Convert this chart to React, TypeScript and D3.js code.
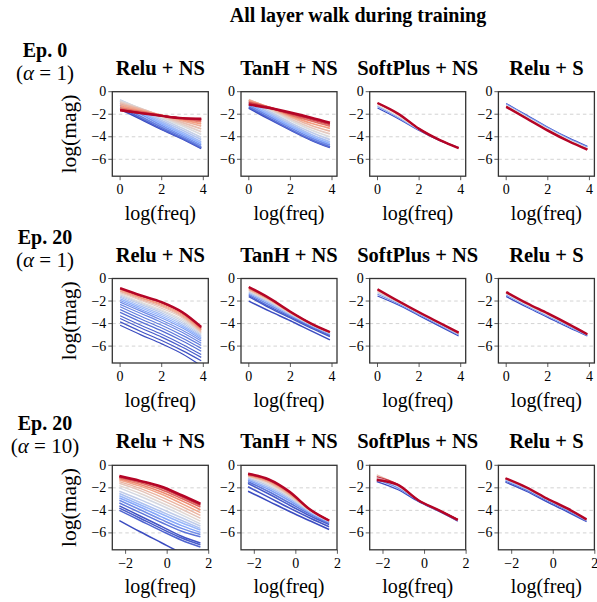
import React, { useEffect, useRef } from "react";
import * as d3 from "d3";

// ---- data ----
const title = "All layer walk during training";
const colTitles = ["Relu + NS", "TanH + NS", "SoftPlus + NS", "Relu + S"];
const rowEpochs = ["Ep. 0", "Ep. 20", "Ep. 20"];
const rowAlphas = ["1", "1", "10"];
const yTicks = [0, -2, -4, -6];
const xTicksA = [0, 2, 4];
const xTicksB = [-2, 0, 2];
const freqA = [0, 1, 2, 3, 3.9]; // log(freq) samples, alpha = 1
const freqB = [-2.3, -1.3, -0.3, 0.7, 1.6]; // log(freq) samples, alpha = 10
const nLayers = 50;

// Ep. 0, alpha = 1
const ep0ReluNSLayers = [0, 3, 6, 9, 12, 15, 18, 21, 24, 27, 30, 33, 36, 39, 42, 45, 48, 49];
const ep0ReluNS = [
  [-1.55, -2.45, -3.35, -4.2, -5.05],
  [-1.4, -2.35, -3.3, -4.15, -5.0],
  [-1.2, -2.2, -3.15, -4.05, -4.9],
  [-1.0, -2.0, -3.0, -3.9, -4.75],
  [-0.85, -1.85, -2.85, -3.75, -4.6],
  [-0.78, -1.72, -2.7, -3.6, -4.45],
  [-0.75, -1.62, -2.55, -3.42, -4.25],
  [-0.75, -1.55, -2.4, -3.25, -4.05],
  [-0.8, -1.5, -2.28, -3.05, -3.8],
  [-0.9, -1.5, -2.2, -2.9, -3.55],
  [-1.0, -1.55, -2.15, -2.75, -3.3],
  [-1.15, -1.6, -2.1, -2.6, -3.05],
  [-1.3, -1.7, -2.1, -2.5, -2.85],
  [-1.45, -1.75, -2.1, -2.42, -2.68],
  [-1.55, -1.82, -2.12, -2.38, -2.55],
  [-1.6, -1.87, -2.13, -2.36, -2.47],
  [-1.63, -1.9, -2.15, -2.35, -2.42],
  [-1.65, -1.9, -2.15, -2.35, -2.4],
];
const ep0TanhNSLayers = [0, 4, 8, 12, 16, 20, 24, 28, 32, 36, 40, 44, 47, 49];
const ep0TanhNS = [
  [-1.45, -2.45, -3.4, -4.3, -4.95],
  [-1.35, -2.35, -3.35, -4.25, -4.9],
  [-1.2, -2.2, -3.2, -4.1, -4.75],
  [-1.05, -2.05, -3.05, -3.95, -4.6],
  [-0.9, -1.9, -2.9, -3.8, -4.45],
  [-0.8, -1.75, -2.75, -3.6, -4.25],
  [-0.75, -1.6, -2.55, -3.4, -4.0],
  [-0.7, -1.5, -2.4, -3.2, -3.75],
  [-0.75, -1.45, -2.25, -3.0, -3.5],
  [-0.8, -1.4, -2.15, -2.8, -3.25],
  [-0.9, -1.4, -2.05, -2.6, -3.05],
  [-1.0, -1.4, -1.95, -2.45, -2.9],
  [-1.1, -1.45, -1.9, -2.35, -2.8],
  [-1.15, -1.45, -1.85, -2.3, -2.75],
];
const ep0SoftNSLayers = [0, 10, 25, 40, 46, 49];
const ep0SoftNS = [
  [-1.45, -2.4, -3.45, -4.35, -4.95],
  [-1.3, -2.3, -3.4, -4.3, -4.95],
  [-1.2, -2.2, -3.35, -4.3, -4.95],
  [-1.05, -2.05, -3.3, -4.3, -5.0],
  [-1.0, -1.98, -3.3, -4.3, -5.0],
  [-1.0, -1.95, -3.3, -4.3, -5.0],
];
const ep0ReluSLayers = [0, 10, 25, 40, 46, 49];
const ep0ReluS = [
  [-1.05, -2.1, -3.15, -4.1, -4.85],
  [-1.1, -2.15, -3.2, -4.15, -4.9],
  [-1.2, -2.25, -3.3, -4.25, -5.0],
  [-1.3, -2.35, -3.4, -4.35, -5.1],
  [-1.33, -2.38, -3.43, -4.38, -5.12],
  [-1.35, -2.4, -3.45, -4.4, -5.15],
];

// Ep. 20, alpha = 1
const ep20ReluNSLayers = [0, 1, 2, 3, 4, 5, 6, 7, 8, 10, 13, 16, 19, 22, 25, 28, 31, 34, 37, 40, 43, 46, 49];
const ep20ReluNS = [
  [-4.15, -5.0, -5.8, -6.7, -7.75],
  [-3.85, -4.7, -5.5, -6.4, -7.3],
  [-3.55, -4.4, -5.2, -6.1, -7.0],
  [-3.3, -4.15, -4.95, -5.85, -6.75],
  [-3.0, -3.85, -4.65, -5.55, -6.45],
  [-2.75, -3.6, -4.4, -5.3, -6.2],
  [-2.5, -3.35, -4.15, -5.05, -5.95],
  [-2.3, -3.1, -3.9, -4.8, -5.75],
  [-2.1, -2.9, -3.7, -4.6, -5.55],
  [-1.95, -2.75, -3.5, -4.4, -5.4],
  [-1.8, -2.6, -3.35, -4.25, -5.25],
  [-1.65, -2.45, -3.2, -4.1, -5.15],
  [-1.55, -2.3, -3.05, -3.95, -5.05],
  [-1.45, -2.2, -2.9, -3.8, -4.95],
  [-1.35, -2.1, -2.8, -3.65, -4.85],
  [-1.25, -1.95, -2.65, -3.5, -4.8],
  [-1.15, -1.85, -2.5, -3.4, -4.7],
  [-1.1, -1.75, -2.4, -3.3, -4.6],
  [-1.0, -1.7, -2.3, -3.2, -4.55],
  [-0.95, -1.6, -2.2, -3.1, -4.45],
  [-0.9, -1.55, -2.15, -3.05, -4.4],
  [-0.88, -1.52, -2.12, -3.02, -4.35],
  [-0.85, -1.5, -2.1, -3.0, -4.3],
];
const ep20TanhNSLayers = [0, 1, 3, 8, 14, 20, 26, 32, 38, 44, 49];
const ep20TanhNS = [
  [-2.0, -2.9, -3.75, -4.65, -5.45],
  [-1.6, -2.6, -3.5, -4.4, -5.15],
  [-1.5, -2.5, -3.4, -4.3, -5.05],
  [-1.4, -2.35, -3.3, -4.2, -4.95],
  [-1.3, -2.2, -3.2, -4.15, -4.9],
  [-1.2, -2.1, -3.15, -4.1, -4.85],
  [-1.1, -2.0, -3.1, -4.08, -4.82],
  [-1.0, -1.92, -3.05, -4.05, -4.8],
  [-0.9, -1.85, -3.0, -4.03, -4.78],
  [-0.8, -1.8, -2.97, -4.0, -4.76],
  [-0.75, -1.75, -2.95, -4.0, -4.75],
];
const ep20SoftNSLayers = [0, 8, 20, 32, 42, 49];
const ep20SoftNS = [
  [-1.55, -2.35, -3.3, -4.25, -5.1],
  [-1.4, -2.25, -3.2, -4.15, -5.0],
  [-1.25, -2.15, -3.12, -4.08, -4.95],
  [-1.1, -2.08, -3.05, -4.0, -4.88],
  [-1.0, -2.03, -3.02, -3.97, -4.83],
  [-0.95, -2.0, -3.0, -3.95, -4.8],
];
const ep20ReluSLayers = [0, 10, 25, 40, 49];
const ep20ReluS = [
  [-1.6, -2.55, -3.45, -4.35, -5.1],
  [-1.45, -2.45, -3.35, -4.25, -5.05],
  [-1.35, -2.35, -3.25, -4.15, -5.0],
  [-1.25, -2.25, -3.15, -4.1, -4.97],
  [-1.2, -2.2, -3.1, -4.05, -4.95],
];

// Ep. 20, alpha = 10
const a10ReluNSLayers = [0, 1, 2, 3, 5, 8, 11, 14, 17, 20, 23, 26, 29, 32, 35, 38, 41, 44, 47, 49];
const a10ReluNS = [
  [-4.9, -5.9, -6.85, -7.8, -8.6],
  [-3.6, -4.5, -5.4, -6.3, -6.9],
  [-3.8, -4.7, -5.6, -6.45, -7.05],
  [-4.0, -4.9, -5.8, -6.65, -7.25],
  [-3.35, -4.2, -5.05, -5.85, -6.35],
  [-3.1, -3.95, -4.8, -5.6, -6.15],
  [-2.9, -3.7, -4.55, -5.35, -5.95],
  [-2.7, -3.5, -4.3, -5.1, -5.75],
  [-2.5, -3.3, -4.1, -4.9, -5.6],
  [-2.3, -3.05, -3.85, -4.65, -5.4],
  [-2.0, -2.75, -3.55, -4.4, -5.2],
  [-1.8, -2.5, -3.3, -4.15, -4.95],
  [-1.6, -2.25, -3.05, -3.9, -4.7],
  [-1.45, -2.05, -2.8, -3.65, -4.45],
  [-1.3, -1.85, -2.55, -3.4, -4.2],
  [-1.2, -1.7, -2.35, -3.15, -3.95],
  [-1.1, -1.55, -2.15, -2.95, -3.7],
  [-1.05, -1.45, -2.0, -2.8, -3.55],
  [-1.0, -1.4, -1.92, -2.7, -3.45],
  [-0.95, -1.38, -1.88, -2.65, -3.4],
];
const a10TanhNSLayers = [0, 1, 2, 5, 10, 15, 20, 25, 30, 35, 40, 45, 49];
const a10TanhNS = [
  [-2.3, -3.2, -4.1, -4.95, -5.7],
  [-1.9, -2.85, -3.8, -4.7, -5.45],
  [-1.6, -2.55, -3.55, -4.5, -5.25],
  [-1.45, -2.35, -3.35, -4.35, -5.15],
  [-1.3, -2.15, -3.15, -4.25, -5.05],
  [-1.2, -2.0, -3.0, -4.15, -5.0],
  [-1.1, -1.85, -2.85, -4.1, -4.98],
  [-1.0, -1.7, -2.75, -4.05, -4.95],
  [-0.95, -1.55, -2.65, -4.0, -4.93],
  [-0.9, -1.45, -2.55, -4.0, -4.92],
  [-0.85, -1.35, -2.45, -3.97, -4.9],
  [-0.8, -1.3, -2.4, -3.95, -4.9],
  [-0.75, -1.25, -2.35, -3.95, -4.9],
];
const a10SoftNSLayers = [0, 8, 20, 30, 40, 45, 49];
const a10SoftNS = [
  [-1.45, -2.15, -3.2, -4.1, -4.95],
  [-1.3, -2.0, -3.15, -4.05, -4.9],
  [-1.1, -1.85, -3.1, -4.0, -4.85],
  [-0.85, -1.75, -3.1, -4.0, -4.85],
  [-1.2, -1.7, -3.1, -4.0, -4.8],
  [-1.0, -1.68, -3.1, -4.0, -4.8],
  [-1.3, -1.72, -3.1, -4.0, -4.85],
];
const a10ReluSLayers = [0, 5, 15, 30, 40, 49];
const a10ReluS = [
  [-1.5, -2.3, -3.25, -4.15, -5.0],
  [-1.4, -2.2, -3.15, -4.05, -4.95],
  [-1.3, -2.1, -3.05, -3.97, -4.9],
  [-1.2, -2.02, -3.0, -3.9, -4.85],
  [-1.17, -1.98, -2.97, -3.87, -4.82],
  [-1.15, -1.95, -2.95, -3.85, -4.8],
];

const rowFreqs = [freqA, freqA, freqB];
const rowXTicks = [xTicksA, xTicksA, xTicksB];
const rowXDomains: [number, number][] = [[-0.375, 4.24], [-0.375, 4.24], [-2.64, 1.98]];
const panelLayers = [
  [ep0ReluNSLayers, ep0TanhNSLayers, ep0SoftNSLayers, ep0ReluSLayers],
  [ep20ReluNSLayers, ep20TanhNSLayers, ep20SoftNSLayers, ep20ReluSLayers],
  [a10ReluNSLayers, a10TanhNSLayers, a10SoftNSLayers, a10ReluSLayers],
];
const panelMags = [
  [ep0ReluNS, ep0TanhNS, ep0SoftNS, ep0ReluS],
  [ep20ReluNS, ep20TanhNS, ep20SoftNS, ep20ReluS],
  [a10ReluNS, a10TanhNS, a10SoftNS, a10ReluS],
];

export default function App() {
  const ref = useRef<SVGSVGElement>(null);

  useEffect(() => {
    const W = 597, H = 602;
    const panelW = 96, panelH = 84.5;
    const colX = (c: number) => 112.3 + c * 128.7;
    const rowY = (r: number) => 91.7 + r * 186.8;
    const serif = "'Liberation Serif', 'Times New Roman', serif";
    // dense fans get wider strokes so they read as a gradient
    const lineW = [
      [1.7, 1.8, 1.2, 1.2],
      [1.2, 1.5, 1.2, 1.2],
      [1.5, 1.6, 1.3, 1.3],
    ];

    // matplotlib-like coolwarm
    const coolwarm = d3
      .scaleLinear<string>()
      .domain([0, 0.25, 0.5, 0.75, 1])
      .range(["#3b4cc0", "#8db0fe", "#dddddd", "#f49a7b", "#b40426"])
      .interpolate(d3.interpolateRgb);

    const svg = d3.select(ref.current);
    svg.selectAll("*").remove();
    svg.attr("width", W).attr("height", H);

    svg
      .append("text")
      .attr("x", 358)
      .attr("y", 22)
      .attr("text-anchor", "middle")
      .attr("font-family", serif)
      .attr("font-weight", "bold")
      .attr("font-size", 20)
      .text(title);

    const defs = svg.append("defs");

    for (let r = 0; r < 3; r++) {
      const top = rowY(r);
      const y = d3.scaleLinear().domain([-7.5, 0]).range([top + panelH, top]);

      // row label
      svg
        .append("text")
        .attr("x", 45)
        .attr("y", top - 35)
        .attr("text-anchor", "middle")
        .attr("font-family", serif)
        .attr("font-weight", "bold")
        .attr("font-size", 20)
        .text(rowEpochs[r]);
      const al = svg
        .append("text")
        .attr("x", 45)
        .attr("y", top - 12)
        .attr("text-anchor", "middle")
        .attr("font-family", serif)
        .attr("font-size", 21);
      al.append("tspan").text("(");
      al.append("tspan").attr("font-style", "italic").text("α");
      al.append("tspan").text("\u2005=\u2005" + rowAlphas[r] + ")");

      svg
        .append("text")
        .attr("transform", `translate(76,${top + panelH / 2}) rotate(-90)`)
        .attr("text-anchor", "middle")
        .attr("font-family", serif)
        .attr("font-size", 21.5)
        .text("log(mag)");

      for (let c = 0; c < 4; c++) {
        const left = colX(c);
        const x = d3.scaleLinear().domain(rowXDomains[r]).range([left, left + panelW]);
        const g = svg.append("g");
        const clipId = `clip-${r}-${c}`;
        defs
          .append("clipPath")
          .attr("id", clipId)
          .append("rect")
          .attr("x", left)
          .attr("y", top)
          .attr("width", panelW)
          .attr("height", panelH);

        g.append("text")
          .attr("x", left + panelW / 2)
          .attr("y", top - 17)
          .attr("text-anchor", "middle")
          .attr("font-family", serif)
          .attr("font-weight", "bold")
          .attr("font-size", 20.5)
          .text(colTitles[c]);

        // dashed grid
        g.selectAll("line.grid")
          .data(yTicks.filter((t) => t !== 0))
          .join("line")
          .attr("x1", left)
          .attr("x2", left + panelW)
          .attr("y1", (d) => y(d))
          .attr("y2", (d) => y(d))
          .attr("stroke", "#c8c8c8")
          .attr("stroke-width", 0.8)
          .attr("stroke-dasharray", "3.5,3");

        const freqs = rowFreqs[r];
        const line = d3
          .line<number>()
          .x((_, i) => x(freqs[i]))
          .y((d) => y(d))
          .curve(d3.curveMonotoneX);

        const layers = panelLayers[r][c];
        const mags = panelMags[r][c];
        g.append("g")
          .attr("clip-path", `url(#${clipId})`)
          .selectAll("path")
          .data(mags)
          .join("path")
          .attr("d", (d) => line(d))
          .attr("fill", "none")
          .attr("stroke", (_, i) => coolwarm(layers[i] / (nLayers - 1)))
          .attr("stroke-width", (_, i) => (layers[i] === nLayers - 1 ? 2.4 : lineW[r][c]));

        // frame
        g.append("rect")
          .attr("x", left)
          .attr("y", top)
          .attr("width", panelW)
          .attr("height", panelH)
          .attr("fill", "none")
          .attr("stroke", "#333")
          .attr("stroke-width", 1.3);

        // y ticks
        yTicks.forEach((t) => {
          g.append("line")
            .attr("x1", left - 4)
            .attr("x2", left)
            .attr("y1", y(t))
            .attr("y2", y(t))
            .attr("stroke", "#333")
            .attr("stroke-width", 0.8);
          g.append("text")
            .attr("x", left - 6)
            .attr("y", y(t) + 4.5)
            .attr("text-anchor", "end")
            .attr("font-family", serif)
            .attr("font-size", 14)
            .text(t < 0 ? "\u2212" + Math.abs(t) : String(t));
        });

        // x ticks
        rowXTicks[r].forEach((t) => {
          g.append("line")
            .attr("x1", x(t))
            .attr("x2", x(t))
            .attr("y1", top + panelH)
            .attr("y2", top + panelH + 4)
            .attr("stroke", "#333")
            .attr("stroke-width", 0.8);
          g.append("text")
            .attr("x", x(t))
            .attr("y", top + panelH + 18)
            .attr("text-anchor", "middle")
            .attr("font-family", serif)
            .attr("font-size", 14)
            .text(t < 0 ? "\u2212" + Math.abs(t) : String(t));
        });

        g.append("text")
          .attr("x", left + panelW / 2)
          .attr("y", top + panelH + 43.5)
          .attr("text-anchor", "middle")
          .attr("font-family", serif)
          .attr("font-size", 20)
          .text("log(freq)");
      }
    }
  }, []);

  return (
    <svg
      ref={ref}
      style={{ position: "absolute", left: 0, top: 0, background: "#fff" }}
    />
  );
}
